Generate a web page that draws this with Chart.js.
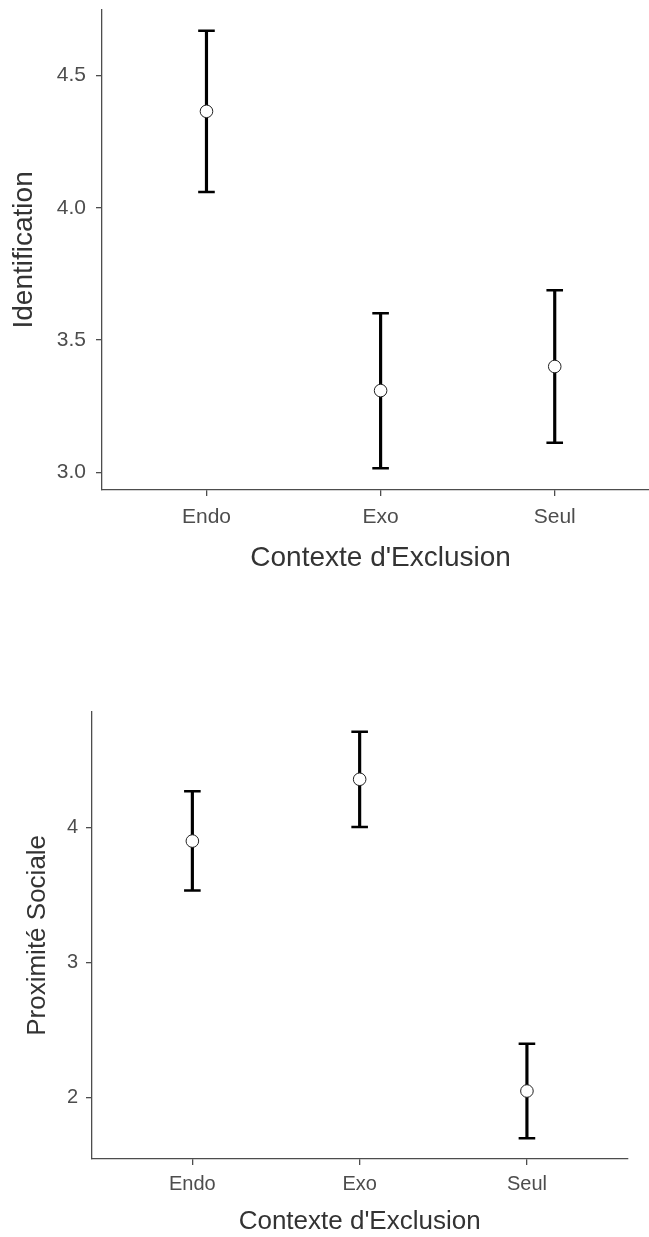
<!DOCTYPE html>
<html><head><meta charset="utf-8">
<script src="https://cdn.jsdelivr.net/npm/chart.js@4.4.1/dist/chart.umd.min.js"></script>
<style>
html,body{margin:0;padding:0;background:#fff;width:649px;height:1237px;overflow:hidden;position:relative;}
.box{position:absolute;left:0;}
#b1{top:-1px;width:670px;height:581px;}
#b2{top:680px;width:649px;height:557px;}
</style></head><body>
<div class="box" id="b1"><canvas id="c1"></canvas></div>
<div class="box" id="b2"><canvas id="c2"></canvas></div>
<script>
const categories = ['Endo', 'Exo', 'Seul'];
const xTitle = "Contexte d'Exclusion";

const identMean = [4.365, 3.309, 3.400];
const identLow  = [4.060, 3.015, 3.112];
const identHigh = [4.670, 3.601, 3.688];
const identTicks = [3.0, 3.5, 4.0, 4.5];

const proxMean = [3.900, 4.358, 2.047];
const proxLow  = [3.533, 4.005, 1.696];
const proxHigh = [4.270, 4.711, 2.397];
const proxTicks = [2, 3, 4];

const AXIS = '#4d4d4d';
const FONT = "'Liberation Sans', Arial, Helvetica, sans-serif";

function makeChart(id, o) {
  const whiskers = categories.map((c, i) => ({x: i + 1, y: [o.low[i], o.high[i]]}));
  const caps = [];
  categories.forEach((c, i) => { caps.push({x: i + 1, y: o.low[i]}); caps.push({x: i + 1, y: o.high[i]}); });
  const means = categories.map((c, i) => ({x: i + 1, y: o.mean[i]}));
  return new Chart(document.getElementById(id), {
    type: 'bar',
    data: {
      datasets: [
        {type: 'bar', data: whiskers, backgroundColor: '#000', borderWidth: 0, barThickness: 2.5, order: 3},
        {type: 'scatter', data: caps, pointStyle: 'line', pointRadius: 8.3, borderWidth: 2.5, borderColor: '#000', order: 2},
        {type: 'scatter', data: means, pointStyle: 'circle', pointRadius: 6.3, backgroundColor: '#fff', borderColor: '#222', borderWidth: 1, order: 1}
      ]
    },
    options: {
      responsive: true, maintainAspectRatio: false, animation: false,
      layout: {padding: o.pad},
      plugins: {legend: {display: false}, tooltip: {enabled: false}},
      scales: {
        x: {
          type: 'linear', min: 0.4, max: 3.6, offset: false,
          afterBuildTicks: s => { s.ticks = categories.map((c, i) => ({value: i + 1})); },
          afterFit: s => { s.height = o.xh; s.paddingLeft = 0; s.paddingRight = 0; },
          grid: {display: true, offset: false, drawOnChartArea: false, drawTicks: true, tickLength: 6, color: AXIS, lineWidth: 1.3},
          border: {display: true, color: AXIS, width: 1.3},
          ticks: {color: AXIS, font: {family: FONT, size: o.tickSize}, padding: o.xTickPad, maxRotation: 0,
                  callback: v => categories[Math.round(v) - 1]},
          title: {display: true, text: xTitle, color: '#333', font: {family: FONT, size: o.titleSize}, padding: {top: 0, bottom: o.xTitlePad}}
        },
        y: {
          type: 'linear', min: o.ymin, max: o.ymax,
          afterBuildTicks: s => { s.ticks = o.ticks.map(v => ({value: v})); },
          afterFit: s => { s.width = o.yw; s.paddingTop = 0; s.paddingBottom = 0; },
          grid: {display: true, drawOnChartArea: false, drawTicks: true, tickLength: 6, color: AXIS, lineWidth: 1.3},
          border: {display: true, color: AXIS, width: 1.3},
          ticks: {color: AXIS, font: {family: FONT, size: o.tickSize}, padding: o.yTickPad,
                  callback: v => v.toFixed(o.dec)},
          title: {display: true, text: o.yTitle, color: '#333', font: {family: FONT, size: o.titleSize}, padding: {top: o.yTitlePad, bottom: 0}}
        }
      }
    }
  });
}

makeChart('c1', {
  mean: identMean, low: identLow, high: identHigh, ticks: identTicks, dec: 1,
  yTitle: 'Identification', ymin: 2.933, ymax: 4.749,
  pad: {top: 10, right: 0, left: 0, bottom: 0}, xh: 90, yw: 102,
  tickSize: 21, titleSize: 28, xTickPad: 8.4, yTickPad: 10, xTitlePad: 5.2, yTitlePad: 7.2
});

makeChart('c2', {
  mean: proxMean, low: proxLow, high: proxHigh, ticks: proxTicks, dec: 0,
  yTitle: 'Proximité Sociale', ymin: 1.543, ymax: 4.859,
  pad: {top: 31.7, right: 21.7, left: 0, bottom: 0}, xh: 78, yw: 92,
  tickSize: 20, titleSize: 26, xTickPad: 7, yTickPad: 8, xTitlePad: 0, yTitlePad: 22.4
});
</script>
</body></html>
